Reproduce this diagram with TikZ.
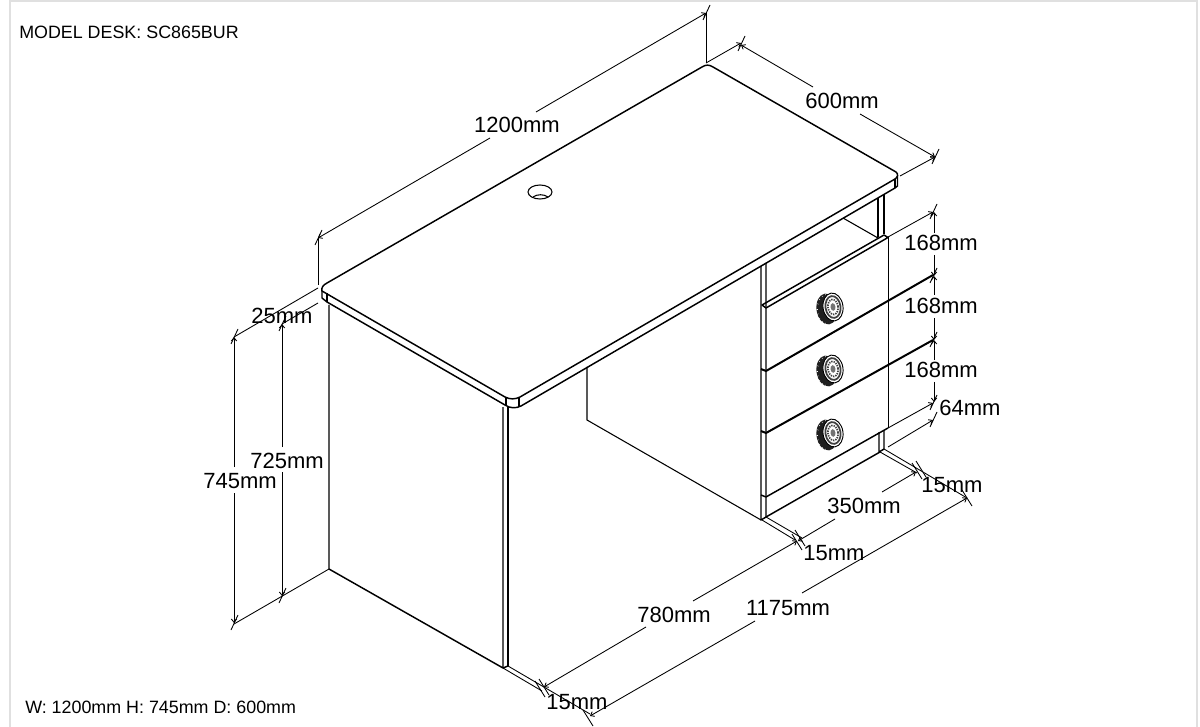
\documentclass[tikz,border=0pt]{standalone}
\usepackage{fontspec}
\setmainfont{Liberation Sans}
\usetikzlibrary{arrows.meta}

\tikzset{
    body/.style={line width=1.1pt, line join=round},
    thin part/.style={line width=0.8pt},
    dimline/.style={line width=0.65pt, -{Straight Barb[length=2.5pt,width=4pt]}},
    plain dim/.style={line width=0.65pt},
    dimtext/.style={font=\fontsize{16.5}{18}\selectfont, inner sep=0pt},
    notetext/.style={font=\fontsize{13.4}{16}\selectfont, inner sep=0pt},
    knob/.pic={
        \fill[black!88] (-3,1) ellipse [x radius=10.5, y radius=15.5, rotate=8];
        \foreach \a in {100,120,...,260}
            \draw[white, line width=0.3pt] ({-3+9*cos(\a)},{1+14*sin(\a)}) -- ({-3+10.5*cos(\a)},{1+15.5*sin(\a)});
        \draw[fill=white, line width=0.7pt] (3,-1) ellipse [x radius=10, y radius=14, rotate=8];
        \draw[black!75, line width=1.3pt] (3,-1) ellipse [x radius=7.5, y radius=11, rotate=8];
        \draw[black!75, line width=1.3pt, dash pattern=on 1pt off 0.8pt] (3,-1) ellipse [x radius=5, y radius=7.5, rotate=8];
        \fill[black!55] (3,-1) ellipse [x radius=2.5, y radius=3.8, rotate=8];
    }
}

\begin{document}
\begin{tikzpicture}[x=0.75pt, y=-0.75pt]
    \useasboundingbox (0,0) rectangle (1200,727);

    % Sheet border
    \begin{scope}
        \clip (0,0) rectangle (1200,727);
        \draw[black!12, line width=1.5pt] (10,1.5) rectangle (1197,740);
    \end{scope}

    % Table top
    \draw[body] (327,283) -- (702,67) .. controls (706,64.5) and (709,64.5) .. (713,67)
        -- (896,172) .. controls (898.5,174) and (898,177) .. (895,179)
        -- (520,397) .. controls (515,399.5) and (510,399.5) .. (505,397)
        -- (322,291) .. controls (321,288) and (323,285) .. (327,283) -- cycle;
    \draw[body] (322,291) -- (322,298) -- (327,302) -- (505,405)
        .. controls (510,408.5) and (516,408.5) .. (521,406)
        -- (895,188) -- (897.5,186) -- (897.5,176);
    \draw[thin part] (327,293) -- (327,302) (506,397.5) -- (506,405.5)
        (519,397.5) -- (519,406.5) (895,179) -- (895,188);

    % Cable hole
    \draw[thin part] (540,192) ellipse [x radius=12, y radius=7];
    \draw[thin part] (533,197) .. controls (537,194) and (544,194) .. (548,197);

    % Left panel
    \draw[body] (329,305) -- (329,569) -- (503,668) -- (503,407);
    \draw[body] (508,407) -- (508,666);
    \draw[body] (503,668) -- (508,666);

    % Back panel
    \draw[thin part] (587,367) -- (587,420) -- (761,520);

    % Pedestal
    \draw[body] (761,266) -- (761,520) -- (766,517) -- (766,263);
    \draw[body] (878,198) -- (878,237) (884,194) -- (884,234);
    \draw[body] (879,432) -- (879,452) -- (884,449) -- (884,430);
    \draw[thin part] (843,218) -- (878,238);
    \draw[body] (762,305) -- (884,235) -- (888,237.5) -- (766,308) -- cycle;
    \draw[thin part] (888.5,237) -- (888.5,428);
    \draw[body] (766,517) -- (880,452);

    % Drawers
    \draw[line width=1.5pt] (761,369) -- (766,371) -- (933,275);
    \draw[line width=1.5pt] (761,431) -- (766,433) -- (933,340);
    \draw[body] (761,495) -- (766,497) -- (888,428);

    \pic at (830,308) {knob};
    \pic at (830,370) {knob};
    \pic at (830,434) {knob};

    % Dimensions: top
    \draw[plain dim] (318,285) -- (318,238);
    \draw[dimline] (490,138) -- (318,238);
    \draw[dimline] (536,112) -- (706,13);
    \draw[plain dim] (706,63) -- (706,13);
    \draw[dimline] (706,63) -- (741,43);
    \draw[dimline] (813,87) -- (741,45);
    \draw[dimline] (860,114) -- (935,157);
    \draw[dimline] (900,176) -- (935,157);

    % Dimensions: drawers
    \draw[dimline] (888,237) -- (933,212);
    \draw[dimline] (888,428) -- (933,403);
    \draw[dimline] (888,447) -- (933,420);
    \draw[dimline] (934,233) -- (934,212);
    \draw[dimline] (934,255) -- (934,276);
    \draw[dimline] (934,295) -- (934,276);
    \draw[dimline] (934,318) -- (934,340);
    \draw[dimline] (934,360) -- (934,340);
    \draw[dimline] (934,382) -- (934,402);

    % Dimensions: left side
    \draw[plain dim] (318,288) -- (234,337);
    \draw[plain dim] (318,303) -- (282,324);
    \draw[dimline] (234,467) -- (234,337);
    \draw[dimline] (234,493) -- (234,623);
    \draw[dimline] (282,447) -- (282,324);
    \draw[dimline] (282,472) -- (282,596);
    \draw[plain dim] (329,569) -- (234,624);

    % Dimensions: floor
    \draw[plain dim] (503,668) -- (542,691);
    \draw[plain dim] (508,666) -- (590,714);
    \draw[plain dim] (762,520) -- (795,540);
    \draw[plain dim] (766,517) -- (802,538);
    \draw[plain dim] (880,452) -- (917,473);
    \draw[plain dim] (884,449) -- (967,498);
    \draw[dimline] (646,627) -- (544,687);
    \draw[dimline] (693,601) -- (797,541);
    \draw[dimline] (835,519) -- (798,541);
    \draw[dimline] (882,492) -- (916,472);
    \draw[dimline] (755,621) -- (590,716);
    \draw[dimline] (802,593) -- (967,498);

    % Ticks
    \foreach \x/\y in {318/238, 706/13, 741/44, 935/157, 933/212, 933/276, 933/340, 933/403, 933/420, 234/337, 282/324, 282/596, 234/623}
        \draw[plain dim] (\x+4,\y-8) -- (\x-3,\y+7);
    \foreach \x/\y in {540/689, 544/687, 797/542, 800/538, 917/471, 921/469, 967/498, 588/718}
        \draw[plain dim] (\x-5,\y-8) -- (\x+5,\y+8);

    % Labels
    \node[notetext, anchor=west] (modelname) at (19,32) {MODEL DESK: SC865BUR};
    \node[notetext, anchor=west] (overall) at (25,707) {W: 1200mm H: 745mm D: 600mm};
    \node[dimtext] (toplength) at (517,125) {1200mm};
    \node[dimtext] (topdepth) at (842,101) {600mm};
    \node[dimtext] (drawerone) at (941,243) {168mm};
    \node[dimtext] (drawertwo) at (941,306) {168mm};
    \node[dimtext] (drawerthree) at (941,370) {168mm};
    \node[dimtext] (plinth) at (970,408) {64mm};
    \node[dimtext] (topthick) at (282,316) {25mm};
    \node[dimtext] (legheight) at (287,461) {725mm};
    \node[dimtext] (deskheight) at (240,481) {745mm};
    \node[dimtext] (pedwidth) at (864,506) {350mm};
    \node[dimtext] (sideback) at (952,485) {15mm};
    \node[dimtext] (sidemid) at (834,553) {15mm};
    \node[dimtext] (knee) at (674,615) {780mm};
    \node[dimtext] (innerlen) at (788,608) {1175mm};
    \node[dimtext] (sidefront) at (577,702) {15mm};
\end{tikzpicture}
\end{document}
